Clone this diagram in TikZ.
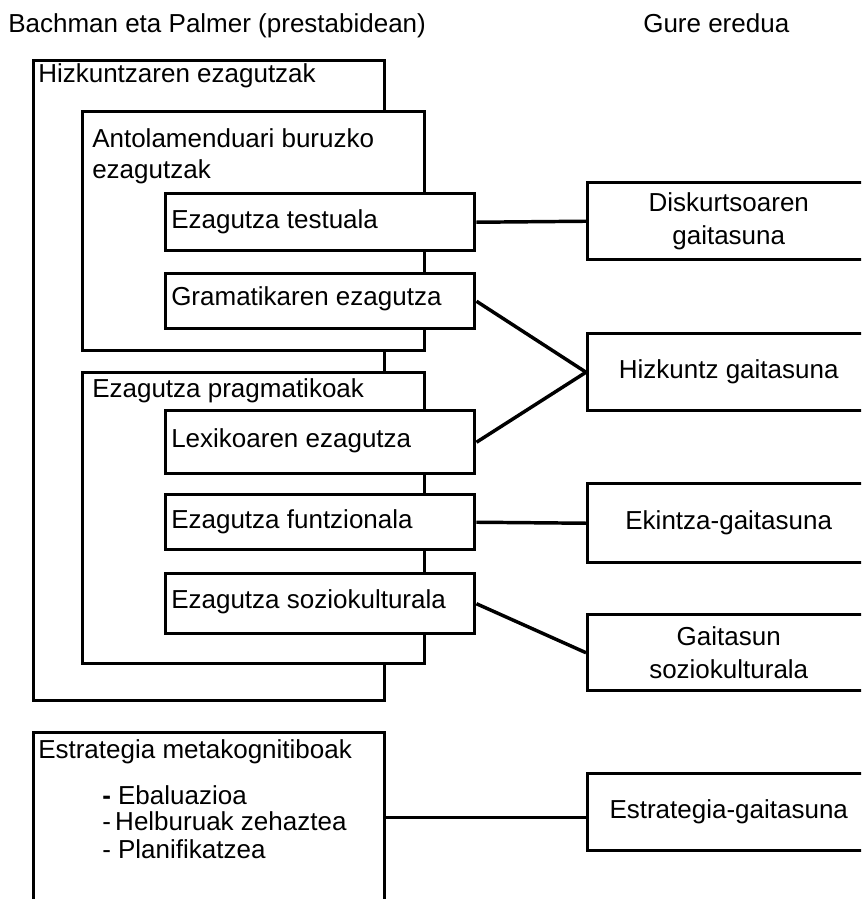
\documentclass[tikz,border=0pt]{standalone}
\usepackage{fontspec}
\setmainfont{Liberation Sans}
\begin{document}
\begin{tikzpicture}[x=0.75pt,y=-0.75pt,
  box/.style={draw, line width=2.6pt, fill=white, rectangle, inner sep=0pt, anchor=north west},
  lbl/.style={anchor=base west, inner sep=0pt, font=\fontsize{19.5}{24.5}\selectfont},
  rbox/.style={box, minimum width=211.5pt, align=center, font=\fontsize{19.5}{24.5}\selectfont},
  link/.style={line width=2.6pt}]
\clip (0,0) rectangle (861,899);
% left column boxes
\node[box, minimum width=263.25pt, minimum height=480pt] (H) at (32,59) {};
\node[box, minimum width=256.5pt, minimum height=179.25pt] (A) at (81,110) {};
\node[box, minimum width=231.75pt, minimum height=42.75pt] (T) at (164,192) {};
\node[box, minimum width=231.75pt, minimum height=41.25pt] (G) at (164,272) {};
\node[box, minimum width=256.5pt, minimum height=218.25pt] (P) at (81,371) {};
\node[box, minimum width=231.75pt, minimum height=47.25pt] (L) at (164,409) {};
\node[box, minimum width=231.75pt, minimum height=41.25pt] (F) at (164,493) {};
\node[box, minimum width=231.75pt, minimum height=45pt] (S) at (164,572) {};
\node[box, minimum width=263.25pt, minimum height=127.5pt] (E) at (32,731) {};
% right column boxes
\node[rbox, minimum height=57.75pt] (D) at (586,181) {Diskurtsoaren\\gaitasuna};
\node[rbox, minimum height=57.75pt] (HZ) at (586,332) {Hizkuntz gaitasuna};
\node[rbox, minimum height=59.25pt] (EK) at (586,482) {Ekintza-gaitasuna};
\node[rbox, minimum height=57pt] (GS) at (586,613) {Gaitasun\\soziokulturala};
\node[rbox, minimum height=57.75pt] (EG) at (586,772) {Estrategia-gaitasuna};
% labels
\node[lbl] (t1) at (8,33) {Bachman eta Palmer (prestabidean)};
\node[lbl] (t2) at (643,33) {Gure eredua};
\node[lbl] (lH) at (38,83) {Hizkuntzaren ezagutzak};
\node[lbl] (lA1) at (92,147) {Antolamenduari buruzko};
\node[lbl] (lA2) at (92,178) {ezagutzak};
\node[lbl] (lT) at (171,228) {Ezagutza testuala};
\node[lbl] (lG) at (171,305) {Gramatikaren ezagutza};
\node[lbl] (lP) at (92,397) {Ezagutza pragmatikoak};
\node[lbl] (lL) at (171,447) {Lexikoaren ezagutza};
\node[lbl] (lF) at (171,528) {Ezagutza funtzionala};
\node[lbl] (lS) at (171,608) {Ezagutza soziokulturala};
\node[lbl] (lE) at (38,758) {Estrategia metakognitiboak};
\node[lbl] (e1) at (102,804) {\textbf{-} Ebaluazioa};
\node[lbl] (e2) at (102,830) {-\,Helburuak zehaztea};
\node[lbl] (e3) at (102,858) {- Planifikatzea};
% connectors
\draw[link] (T.east) -- (D.west);
\draw[link] (G.east) -- (HZ.west);
\draw[link] (L.east) -- (HZ.west);
\draw[link] (F.east) -- (EK.west);
\draw[link] (S.east) -- (GS.west);
\draw[link] (E.east) -- (EG.west |- E.east);
\end{tikzpicture}
\end{document}
